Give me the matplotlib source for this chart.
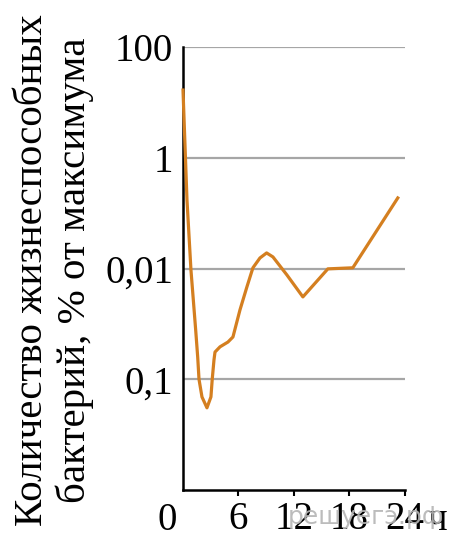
import matplotlib.pyplot as plt
import numpy as np

# hours after start, viable bacteria (% of maximum)
hours = [0, 0.43, 0.86, 1.37, 1.59, 1.73, 2.05, 2.59, 3.02, 3.16, 3.35, 3.46,
         4.0, 4.86, 5.4, 6.16, 6.91, 7.56, 8.32, 9.04, 9.72, 11.23, 12.96,
         15.66, 18.36, 23.22]
percent = [16.7, 0.173, 0.0094, 7.8e-4, 2.5e-4, 1.0e-4, 4.8e-5, 3.05e-5, 4.8e-5,
           1.0e-4, 2.24e-4, 3.1e-4, 3.85e-4, 4.7e-4, 5.8e-4, 1.79e-3, 4.66e-3,
           0.0103, 0.0155, 0.0191, 0.0162, 0.00766, 0.00307, 0.00985, 0.0103, 0.188]

y_ticks = [100, 1, 0.01, 1e-4]
y_tick_labels = ["100", "1", "0,01", "0,1"]
x_ticks = [6, 12, 18, 24]
x_tick_labels = ["6", "12", "18", "24"]

plt.rcParams['font.family'] = ['Liberation Serif', 'DejaVu Serif']

fig = plt.figure(figsize=(4.63, 5.5), dpi=100)
ax = fig.add_axes([183 / 463, 1 - 490 / 550, 222 / 463, 443 / 550])

ax.set_yscale('log')
ax.set_ylim(1e-6, 1e2)
ax.set_xlim(0, 24)

for t in y_ticks:
    ax.axhline(t, color='#a6a6a6', linewidth=1.6, zorder=1)

ax.plot(hours, percent, color='#d47f20', linewidth=2.3, zorder=3,
        solid_joinstyle='round', clip_on=False)

ax.set_yticks(y_ticks)
ax.set_yticklabels(y_tick_labels)
ax.minorticks_off()
ax.set_xticks(x_ticks)
ax.set_xticklabels(x_tick_labels)
ax.tick_params(axis='y', length=0, pad=7, labelsize=28)
ax.tick_params(axis='x', length=4, width=1.5, direction='out', pad=4, labelsize=28)

for s in ['top', 'right']:
    ax.spines[s].set_visible(False)
for s in ['left', 'bottom']:
    ax.spines[s].set_linewidth(1.8)
    ax.spines[s].set_color('black')

fig.text(167 / 463, 1 - 530 / 550, "0", fontsize=28, ha='center', va='baseline')
fig.text(427 / 463, 1 - 530 / 550, "ч", fontsize=28, ha='left', va='baseline')

fig.text(54 / 463, 1 - 270 / 550,
         "Количество жизнеспособных\nбактерий, % от максимума",
         rotation=90, fontsize=29.5, ha='center', va='center',
         multialignment='center', linespacing=1.15)

fig.text(366 / 463, 1 - 517 / 550, "решуегэ.рф", fontsize=18, color='#b5b5b5',
         family='DejaVu Sans', ha='center', va='center', alpha=0.9)

fig.savefig("out.png", dpi=100)
